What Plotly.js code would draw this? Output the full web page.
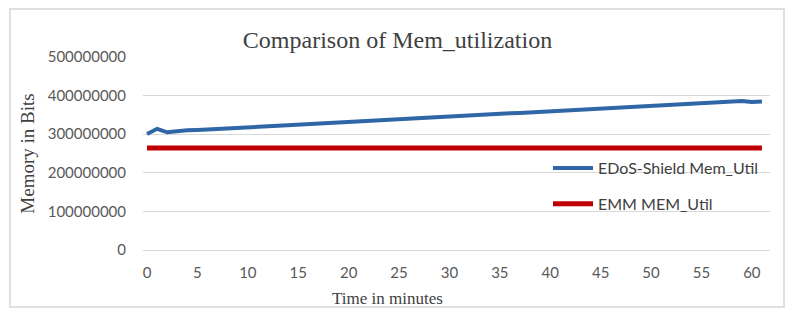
<!DOCTYPE html>
<html>
<head>
<meta charset="utf-8">
<script src="https://cdn.plot.ly/plotly-3.0.1.min.js"></script>
<style>
  html, body { margin: 0; padding: 0; background: #fff; }
  #frame { position: absolute; left: 9px; top: 8px; width: 776px; height: 300px; border: 2px solid #e0e0e0; box-sizing: border-box; pointer-events: none; z-index: 5; }
  #chart { position: absolute; left: 0; top: 0; width: 795px; height: 322px; }
</style>
</head>
<body>
<div id="chart"></div>
<div id="frame"></div>
<script>
const minutes = [0,1,2,3,4,5,6,7,8,9,10,11,12,13,14,15,16,17,18,19,20,21,22,23,24,25,26,27,28,29,30,
  31,32,33,34,35,36,37,38,39,40,41,42,43,44,45,46,47,48,49,50,51,52,53,54,55,56,57,58,59,60,61];
const edosShieldMem = [300500000,314000000,305000000,308000000,310000000,311000000,312000000,313500000,315000000,316500000,
  318000000,319000000,320500000,322000000,323500000,325000000,326000000,327500000,329000000,330000000,
  331500000,333000000,334000000,335500000,337000000,338500000,340000000,341000000,342500000,344000000,
  345500000,347000000,348500000,350000000,351000000,352500000,354000000,355000000,356500000,358000000,
  359500000,361000000,362000000,363500000,365000000,366000000,367500000,369000000,370000000,371500000,
  373000000,374000000,375500000,377000000,378500000,380000000,381000000,382500000,384000000,386000000,
  383500000,384500000];
const emmMem = [264000000,264000000,264000000,264000000,264000000,264000000,264000000,264000000,264000000,264000000,
  264000000,264000000,264000000,264000000,264000000,264000000,264000000,264000000,264000000,264000000,
  264000000,264000000,264000000,264000000,264000000,264000000,264000000,264000000,264000000,264000000,
  264000000,264000000,264000000,264000000,264000000,264000000,264000000,264000000,264000000,264000000,
  264000000,264000000,264000000,264000000,264000000,264000000,264000000,264000000,264000000,264000000,
  264000000,264000000,264000000,264000000,264000000,264000000,264000000,264000000,264000000,264000000,
  264000000,264000000];
const seriesNames = ["EDoS-Shield Mem_Util", "EMM MEM_Util"];
const xTicks = [0,5,10,15,20,25,30,35,40,45,50,55,60];
const yTicks = [0,100000000,200000000,300000000,400000000,500000000];

const tickFont = { family: "Lato, 'Open Sans', sans-serif", size: 15, color: "#595959" };
const serif = "'Liberation Serif', 'Times New Roman', serif";

const data = [
  { x: minutes, y: edosShieldMem, name: seriesNames[0], type: "scatter", mode: "lines",
    line: { color: "#2f67a6", width: 4 }, legendgroup: "a" },
  { x: minutes, y: emmMem, name: seriesNames[1], type: "scatter", mode: "lines",
    line: { color: "#c00000", width: 5 }, legendgroup: "b" }
];

const layout = {
  width: 795, height: 322,
  margin: { l: 143, r: 25, t: 57, b: 72 },
  paper_bgcolor: "#ffffff", plot_bgcolor: "#ffffff",
  title: { text: "Comparison of Mem_utilization", x: 0.5, xref: "container", y: 1 - 40/322, yref: "container",
           xanchor: "center", yanchor: "middle",
           font: { family: serif, size: 24, color: "#404040" } },
  xaxis: {
    range: [-0.4, 61.8], tickvals: xTicks, ticktext: xTicks.map(String),
    showgrid: false, zeroline: false, showline: false,
    ticks: "", ticklabelstandoff: 12, tickfont: tickFont
  },
  yaxis: {
    range: [0, 500000000], tickvals: yTicks, ticktext: yTicks.map(String),
    showgrid: true, gridcolor: "#d9d9d9", gridwidth: 1,
    zeroline: true, zerolinecolor: "#d9d9d9", zerolinewidth: 1, showline: false,
    ticks: "", ticklabelstandoff: 16, tickfont: tickFont,
    title: { text: "Memory in Bits", standoff: 8, font: { family: serif, size: 19, color: "#404040" } }
  },
  annotations: [
    { text: "Time in minutes", xref: "paper", yref: "paper", x: (387 - 143) / 627, y: -(298 - 250) / 193,
      xanchor: "center", yanchor: "middle", showarrow: false,
      font: { family: serif, size: 17, color: "#404040" } }
  ],
  showlegend: true,
  legend: {
    x: (548 - 143) / 627, xanchor: "left", y: (250 - 151) / 193, yanchor: "top",
    bgcolor: "rgba(0,0,0,0)", traceorder: "grouped", tracegroupgap: 12,
    font: { family: "Lato, 'Open Sans', sans-serif", size: 16, color: "#404040" },
    itemwidth: 40
  }
};

Plotly.newPlot("chart", data, layout, { displayModeBar: false, staticPlot: true });
</script>
</body>
</html>
